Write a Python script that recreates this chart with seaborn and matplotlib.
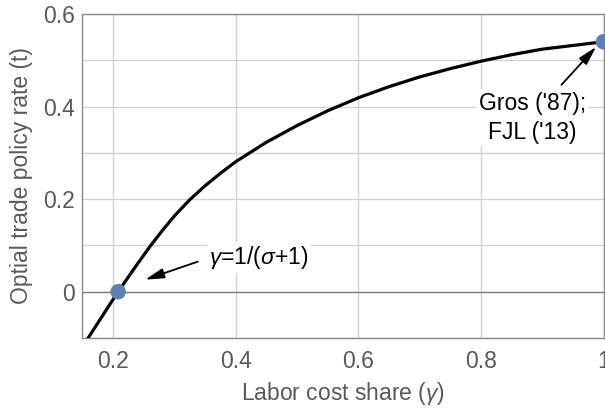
import matplotlib
matplotlib.use("Agg")
import matplotlib.pyplot as plt
import seaborn as sns
import pandas as pd

# ---- data ----
gamma = [0.15, 0.159, 0.18, 0.20, 0.208, 0.22, 0.24, 0.26, 0.28, 0.30, 0.325, 0.35,
         0.375, 0.40, 0.45, 0.50, 0.55, 0.60, 0.65, 0.70, 0.75, 0.80, 0.85, 0.90,
         0.95, 1.00]
rate = [-0.119, -0.100, -0.057, -0.016, 0.000, 0.023, 0.061, 0.098, 0.132, 0.164,
        0.199, 0.229, 0.256, 0.281, 0.323, 0.359, 0.391, 0.419, 0.443, 0.464,
        0.482, 0.498, 0.512, 0.524, 0.532, 0.540]
point_gamma = [0.208, 1.0]
point_rate = [0.0, 0.54]
x_ticks = [0.2, 0.4, 0.6, 0.8, 1.0]
x_tick_labels = ["0.2", "0.4", "0.6", "0.8", "1"]
y_ticks = [0.0, 0.2, 0.4, 0.6]
y_tick_labels = ["0", "0.2", "0.4", "0.6"]
y_minor = [-0.1, 0.1, 0.3, 0.5]
label_low = r"$\gamma$=1/($\sigma$+1)"
label_high = "Gros ('87);\nFJL ('13)"

curve = pd.DataFrame({"gamma": gamma, "rate": rate})
pts = pd.DataFrame({"gamma": point_gamma, "rate": point_rate})

sns.set_theme(style="white")
plt.rcParams['font.family'] = ['Liberation Sans', 'DejaVu Sans']
plt.rcParams['mathtext.fontset'] = 'custom'
plt.rcParams['mathtext.rm'] = 'Liberation Sans'
plt.rcParams['mathtext.it'] = 'Liberation Sans:italic'
plt.rcParams['mathtext.sf'] = 'Liberation Sans'

FS = 16.5
GRAY = "#5a5a5a"

fig = plt.figure(figsize=(6.05, 4.13), dpi=100)
ax = fig.add_axes([82 / 605, 1 - 338 / 413, (603.5 - 82) / 605, (338 - 14) / 413])

ax.set_xlim(0.149, 1.0)
ax.set_ylim(-0.1, 0.6)

ax.set_xticks(x_ticks)
ax.set_xticklabels(x_tick_labels)
ax.set_yticks(y_ticks)
ax.set_yticklabels(y_tick_labels)
ax.set_yticks(y_minor, minor=True)

ax.grid(True, which="major", color="#d2d2d2", linewidth=1.0, zorder=0)
ax.grid(True, which="minor", axis="y", color="#d2d2d2", linewidth=1.0, zorder=0)
ax.set_axisbelow(True)
ax.axhline(0, color="#808080", linewidth=1.0, zorder=1)

ax.tick_params(axis="both", which="major", direction="in", length=5, width=1,
               color="#808080", labelsize=FS, labelcolor=GRAY)
ax.tick_params(axis="x", which="major", pad=9)
ax.tick_params(axis="y", which="major", pad=5)
ax.tick_params(axis="both", which="minor", length=0)

for s in ax.spines.values():
    s.set_color("#8a8a8a")
    s.set_linewidth(1.0)

sns.lineplot(data=curve, x="gamma", y="rate", ax=ax, color="black", linewidth=2.3,
             zorder=3, sort=True)
sns.scatterplot(data=pts, x="gamma", y="rate", ax=ax, color="#5E81B5", s=125,
                edgecolor="none", zorder=4, clip_on=False)

ax.set_xlabel(r"Labor cost share ($\gamma$)", fontsize=FS, color=GRAY, labelpad=5)
ax.set_ylabel("Optial trade policy rate (t)", fontsize=FS, color=GRAY, labelpad=7)

arrow_style = dict(arrowstyle="-|>,head_length=0.95,head_width=0.25",
                   color="black", lw=1.3, shrinkA=0, shrinkB=0)

ax.text(0.357, 0.073, label_low, fontsize=FS, color="black", ha="left", va="center",
        bbox=dict(boxstyle="square,pad=0.1", fc="white", ec="none"), zorder=5)
ax.annotate("", xy=(0.252, 0.026), xytext=(0.338, 0.065),
            arrowprops=arrow_style, zorder=5)

ax.text(0.884, 0.376, label_high, fontsize=FS, color="black", ha="center",
        va="center", linespacing=1.35,
        bbox=dict(boxstyle="square,pad=0.1", fc="white", ec="none"), zorder=5)
ax.annotate("", xy=(0.988, 0.529), xytext=(0.9314, 0.447),
            arrowprops=arrow_style, zorder=5)

fig.savefig("out.png", dpi=100)
